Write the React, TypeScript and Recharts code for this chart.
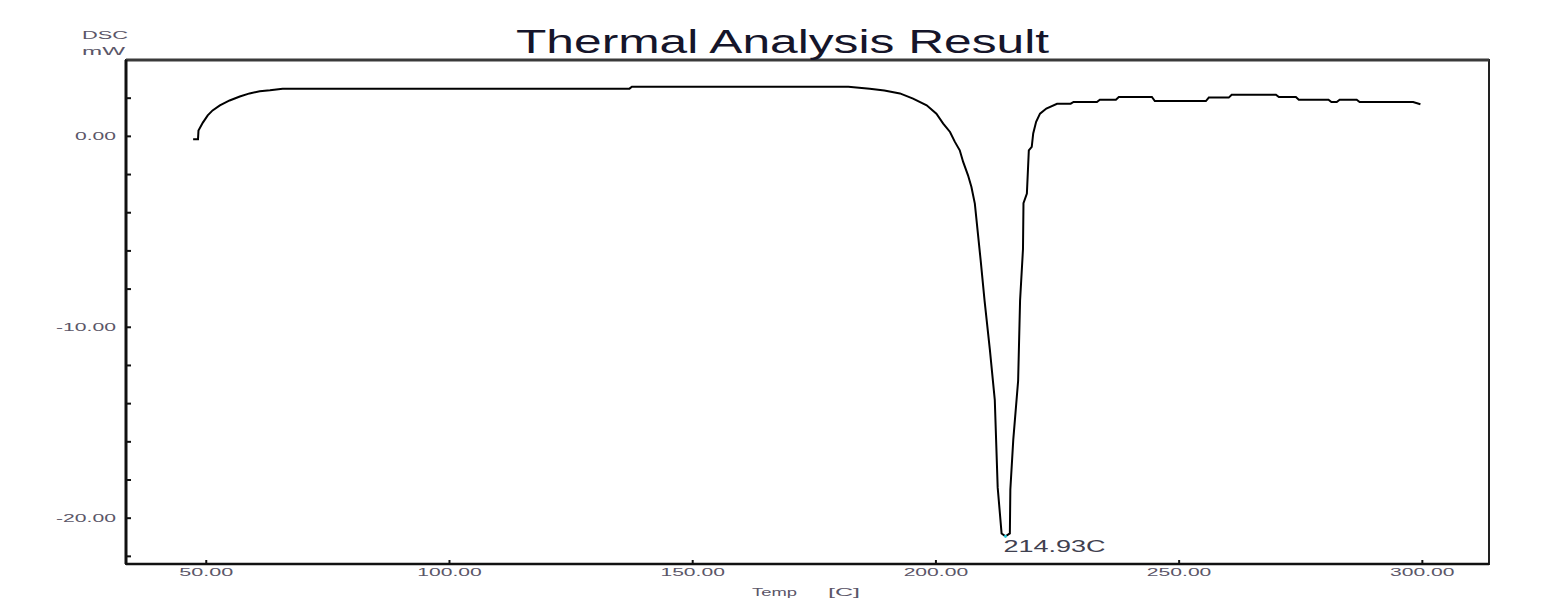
import React from "react";
import {
  LineChart, Line, XAxis, YAxis, ReferenceArea, ReferenceLine, ReferenceDot,
} from "recharts";

// temperature in C and DSC signal in mW
const TEMPS = [
  47.3, 48.3, 48.4, 49.3, 50.3, 51.3, 52.8, 54.8, 56.9, 58.9, 61.0, 63.1, 65.7,
  100.0, 137.0, 137.5, 182.0, 186.4, 189.4, 192.6, 195.3, 198.1, 200.1, 201.5,
  202.9, 203.9, 204.9, 205.6, 206.6, 207.3, 208.0, 209.2, 210.0, 211.1, 212.1,
  212.7, 213.5, 214.3, 215.2, 215.3, 215.9, 216.9, 217.3, 217.9, 218.0, 218.7,
  219.1, 219.7, 220.0, 220.6, 221.4, 222.7, 224.9, 227.7, 228.3, 233.1, 233.7,
  237.0, 237.6, 244.4, 245.0, 255.5, 256.1, 260.2, 260.8, 269.9, 270.5, 274.0,
  274.6, 280.7, 281.3, 282.4, 283.0, 286.5, 287.1, 298.1, 299.6,
];
const DSC = [
  -0.15, -0.15, 0.3, 0.72, 1.1, 1.36, 1.62, 1.88, 2.09, 2.25, 2.36, 2.41, 2.5,
  2.5, 2.5, 2.6, 2.6, 2.5, 2.4, 2.25, 1.98, 1.63, 1.19, 0.67,
  0.23, -0.29, -0.73, -1.34, -2.04, -2.65, -3.52, -6.5, -8.6, -11.2, -13.8,
  -18.4, -20.8, -20.95, -20.8, -18.5, -15.9, -12.8, -8.6, -5.9, -3.5, -3.0,
  -0.73, -0.55, 0.15, 0.76, 1.19, 1.46, 1.71, 1.71, 1.8, 1.8, 1.92,
  1.92, 2.06, 2.06, 1.85, 1.85, 2.03, 2.03, 2.18, 2.18, 2.06, 2.06,
  1.92, 1.92, 1.8, 1.8, 1.92, 1.92, 1.8, 1.8, 1.68,
];
const X_TICKS = [50, 100, 150, 200, 250, 300];
const Y_TICKS = [-22, -20, -18, -16, -14, -12, -10, -8, -6, -4, -2, 0, 2];
const PEAK_T = 214.3;
const PEAK_V = -20.95;
const PEAK_LABEL = "214.93C";

const X_MIN = 33.5;
const X_MAX = 313.7;
const Y_MIN = -22.4;
const Y_MAX = 4.0;

const data = TEMPS.map((t, i) => ({ temp: t, dsc: DSC[i] }));

const FONT = "'Liberation Sans', Arial, sans-serif";
const LABEL_COLOR = "#5b5668";

function XTick(props: any) {
  const { x, y, payload } = props;
  const txt = Number(payload.value).toFixed(2);
  const digits = txt.replace(".", "").length;
  return (
    <g>
      <line x1={x} x2={x} y1={y} y2={y - 4} stroke="#111" strokeWidth={2} />
      <text
        x={x} y={y + 12} textAnchor="middle" fontSize={10} fontFamily={FONT} fill={LABEL_COLOR}
        textLength={digits * 10.5 + 12} lengthAdjust="spacingAndGlyphs"
      >
        {txt}
      </text>
    </g>
  );
}

function YTick(props: any) {
  const { x, y, payload } = props;
  const v = Number(payload.value);
  const major = Math.abs(v % 10) < 1e-6;
  const txt = v.toFixed(2);
  const w = txt.length >= 6 ? 60 : 41;
  return (
    <g>
      <line x1={x} x2={x + 5} y1={y} y2={y} stroke="#111" strokeWidth={2} />
      {major && (
        <text
          x={x - 10 - w} y={y + 3.5} fontSize={10} fontFamily={FONT} fill={LABEL_COLOR}
          textLength={w} lengthAdjust="spacingAndGlyphs"
        >
          {txt}
        </text>
      )}
    </g>
  );
}

function PeakLabel(props: any) {
  const vb = props.viewBox || {};
  const cx = (vb.x ?? 0) + (vb.width ?? 0) / 2;
  const cy = (vb.y ?? 0) + (vb.height ?? 0) / 2;
  return (
    <text
      x={cx - 2} y={cy + 16} fontSize={17} fontFamily={FONT} fill="#3f4150"
      textLength={102} lengthAdjust="spacingAndGlyphs"
    >
      {PEAK_LABEL}
    </text>
  );
}

export default function App() {
  return (
    <div style={{ position: "absolute", left: 0, top: 0, width: 1560, height: 605, background: "#fff" }}>
      <LineChart
        width={1560}
        height={605}
        data={data}
        margin={{ top: 60, right: 71, bottom: 40, left: 125 }}
      >
        <XAxis
          dataKey="temp"
          type="number"
          domain={[X_MIN, X_MAX]}
          ticks={X_TICKS}
          height={1}
          tickSize={0}
          tickMargin={0}
          tickLine={false}
          axisLine={{ stroke: "#111", strokeWidth: 2.5 }}
          tick={(p: any) => <XTick {...p} />}
          interval={0}
          allowDataOverflow
        />
        <YAxis
          type="number"
          domain={[Y_MIN, Y_MAX]}
          ticks={Y_TICKS}
          width={1}
          tickSize={0}
          tickMargin={0}
          tickLine={false}
          axisLine={{ stroke: "#111", strokeWidth: 3 }}
          tick={(p: any) => <YTick {...p} />}
          interval={0}
          allowDataOverflow
        />
        <ReferenceArea
          x1={X_MIN} x2={X_MAX} y1={Y_MIN} y2={Y_MAX}
          fill="none" stroke="#222" strokeWidth={2} ifOverflow="visible"
        />
        <ReferenceLine y={Y_MAX} stroke="#3a3a3a" strokeWidth={3} ifOverflow="visible" />
        <Line
          dataKey="dsc"
          type="linear"
          stroke="#000"
          strokeWidth={2}
          dot={false}
          isAnimationActive={false}
        />
        <ReferenceDot
          x={PEAK_T} y={PEAK_V} r={1.5} fill="#22c8d8" stroke="none"
          label={(p: any) => <PeakLabel {...p} />}
        />
      </LineChart>
      <svg width={1560} height={605} style={{ position: "absolute", left: 0, top: 0, pointerEvents: "none" }}>
        <text
          x={516} y={53} fontSize={34} fontFamily={FONT} fill="#15152a"
          textLength={533} lengthAdjust="spacingAndGlyphs"
        >
          Thermal Analysis Result
        </text>
        <text x={82} y={39} fontSize={10} fontFamily={FONT} fill={LABEL_COLOR} textLength={46} lengthAdjust="spacingAndGlyphs">
          DSC
        </text>
        <text x={82} y={55} fontSize={10} fontFamily={FONT} fill={LABEL_COLOR} textLength={43} lengthAdjust="spacingAndGlyphs">
          mW
        </text>
        <text x={752} y={596} fontSize={10} fontFamily={FONT} fill={LABEL_COLOR} textLength={45} lengthAdjust="spacingAndGlyphs">
          Temp
        </text>
        <text x={828} y={596} fontSize={10} fontFamily={FONT} fill={LABEL_COLOR} textLength={32} lengthAdjust="spacingAndGlyphs">
          [C]
        </text>
      </svg>
    </div>
  );
}
